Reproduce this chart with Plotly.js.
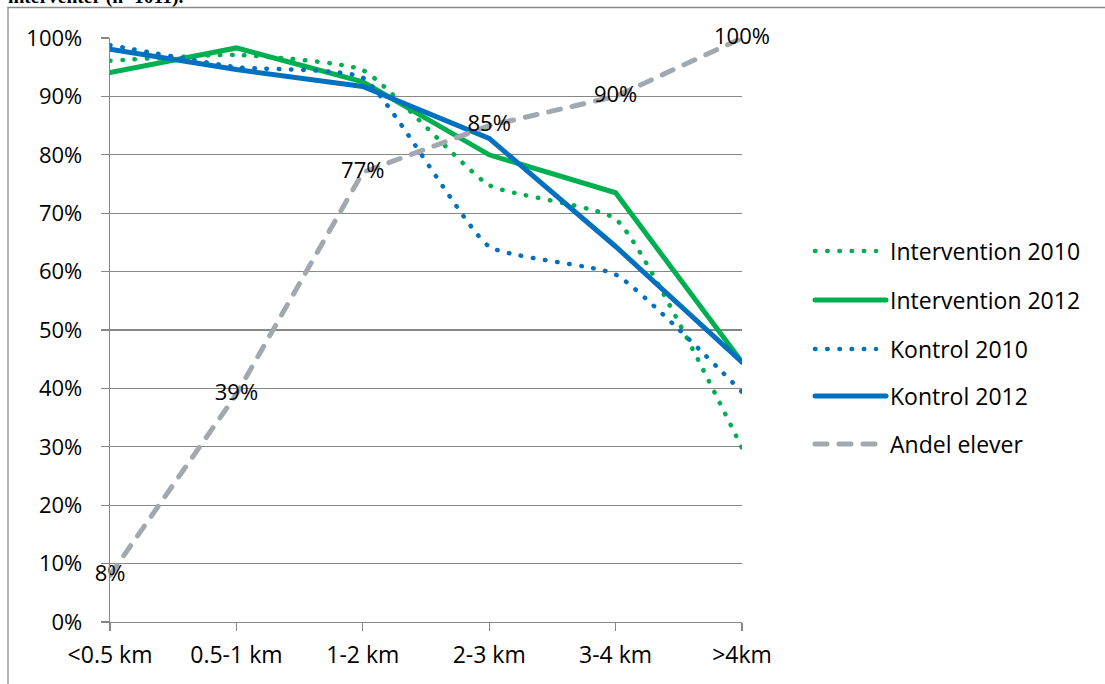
<!DOCTYPE html>
<html>
<head>
<meta charset="utf-8">
<script src="https://cdn.plot.ly/plotly-3.0.1.min.js"></script>
<style>
  html, body { margin: 0; padding: 0; background: #fff; }
  #chart { width: 1105px; height: 684px; }
  .scatterlayer path.js-line, .shapelayer path { stroke-linecap: round; }
</style>
</head>
<body>
<div id="chart"></div>
<script>
// ---- data ----
const categories = ['<0.5 km', '0.5-1 km', '1-2 km', '2-3 km', '3-4 km', '>4km'];
const seriesNames = ['Intervention 2010', 'Intervention 2012', 'Kontrol 2010', 'Kontrol 2012', 'Andel elever'];
const intervention2010 = [0.961, 0.971, 0.945, 0.748, 0.690, 0.298];
const intervention2012 = [0.941, 0.983, 0.925, 0.800, 0.735, 0.445];
const kontrol2010 = [0.988, 0.950, 0.932, 0.643, 0.595, 0.394];
const kontrol2012 = [0.981, 0.946, 0.917, 0.828, 0.643, 0.445];
const andelElever = [0.08, 0.39, 0.77, 0.85, 0.90, 1.00];
const andelLabels = ['8%', '39%', '77%', '85%', '90%', '100%'];
const yTickVals = [0, 0.1, 0.2, 0.3, 0.4, 0.5, 0.6, 0.7, 0.8, 0.9, 1.0];
const yTickText = ['0%', '10%', '20%', '30%', '40%', '50%', '60%', '70%', '80%', '90%', '100%'];
const topText = 'interventer (n=1011).';

// ---- styles ----
const GREEN = '#00b050';
const BLUE = '#0070c0';
const GRAY = '#a2a9ae';
const GRID = '#878787';
const FONT = '"Open Sans", sans-serif';
const FS = 23;
const FSY = 22;

const styles = [
  {color: GREEN, width: 4.5, dash: '0.5px,11.7px', shape: 'spline'},
  {color: GREEN, width: 5, dash: 'solid', shape: 'linear'},
  {color: BLUE, width: 4.5, dash: '0.5px,11.7px', shape: 'spline'},
  {color: BLUE, width: 5, dash: 'solid', shape: 'linear'},
  {color: GRAY, width: 5, dash: '12px,12px', shape: 'linear'}
];
const seriesData = [intervention2010, intervention2012, kontrol2010, kontrol2012, andelElever];

// plot area in pixels
const L = 110, R = 742, T = 38, B = 622;
const px2x = px => (px - L) / (R - L);
const py2y = py => (B - py) / (B - T);

const traces = seriesData.map((vals, i) => {
  const s = styles[i];
  const tr = {
    type: 'scatter',
    x: categories,
    y: vals,
    name: seriesNames[i],
    mode: 'lines',
    line: {color: s.color, width: s.width, dash: s.dash, shape: s.shape, smoothing: 0.45},
    showlegend: false,
    hoverinfo: 'skip',
    cliponaxis: false
  };
  if (i === 4) {
    tr.mode = 'lines+text';
    tr.text = andelLabels;
    tr.textposition = 'middle center';
    tr.textfont = {family: FONT, size: FSY, color: '#000'};
  }
  return tr;
});

// legend (manual, to match long line samples)
const legendY = [251, 300, 349, 396, 444];
const shapes = [];
const annotations = [];
seriesNames.forEach((n, i) => {
  const s = styles[i];
  shapes.push({
    type: 'line', xref: 'paper', yref: 'paper',
    x0: px2x(815), x1: px2x(i % 2 === 1 ? 886 : 876),
    y0: py2y(legendY[i]), y1: py2y(legendY[i]),
    line: {color: s.color, width: s.width, dash: s.dash}
  });
  annotations.push({
    xref: 'paper', yref: 'paper', x: px2x(888), y: py2y(legendY[i]),
    xanchor: 'left', yanchor: 'middle', showarrow: false,
    text: n, font: {family: FONT, size: FS, color: '#000'}
  });
});
// outer frame (left and top edges)
shapes.push({type: 'line', xref: 'paper', yref: 'paper', x0: px2x(8), x1: px2x(1110), y0: py2y(7.5), y1: py2y(7.5), line: {color: '#8a8a8a', width: 1.3}});
shapes.push({type: 'line', xref: 'paper', yref: 'paper', x0: px2x(8), x1: px2x(8), y0: py2y(7.5), y1: py2y(690), line: {color: '#8a8a8a', width: 1.3}});
// clipped caption at top
annotations.push({
  xref: 'paper', yref: 'paper', x: px2x(6), y: py2y(-2.5),
  xanchor: 'left', yanchor: 'middle', showarrow: false,
  text: '<b>' + topText + '</b>', font: {family: '"Liberation Serif", "DejaVu Serif", serif', size: 19.5, color: '#000'}
});

const layout = {
  width: 1105, height: 684,
  margin: {l: L, r: 1105 - R, t: T, b: 684 - B, pad: 0},
  paper_bgcolor: '#fff', plot_bgcolor: '#fff',
  showlegend: false,
  font: {family: FONT, size: FS, color: '#000'},
  xaxis: {
    type: 'category', range: [0, 5], showgrid: false, zeroline: false,
    showline: true, linecolor: GRID, linewidth: 1.3,
    ticks: 'outside', ticklen: 8, tickcolor: GRID, tickwidth: 1.3,
    ticklabelstandoff: 4,
    tickfont: {family: FONT, size: FS, color: '#000'}
  },
  yaxis: {
    range: [0, 1], tickvals: yTickVals, ticktext: yTickText,
    showgrid: true, gridcolor: GRID, gridwidth: 1.3, zeroline: false,
    showline: true, linecolor: GRID, linewidth: 1.3,
    ticks: 'outside', ticklen: 8, tickcolor: GRID, tickwidth: 1.3,
    ticklabelstandoff: 14,
    tickfont: {family: FONT, size: FSY, color: '#000'}
  },
  shapes: shapes,
  annotations: annotations
};

Plotly.newPlot('chart', traces, layout, {staticPlot: true, displayModeBar: false});
</script>
</body>
</html>
